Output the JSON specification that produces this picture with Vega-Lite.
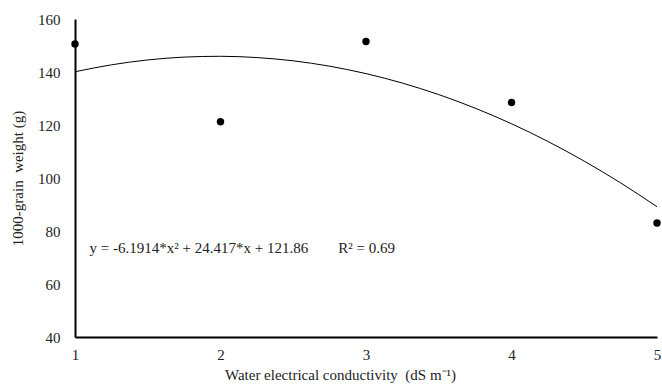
{
  "$schema": "https://vega.github.io/schema/vega-lite/v6.json",
  "width": 582,
  "height": 318,
  "autosize": "none",
  "padding": {"left": 75, "top": 19, "right": 5, "bottom": 53},
  "background": "white",
  "config": {"view": {"stroke": null}, "font": "Liberation Serif"},
  "datasets": {
    "points": [
      {"ec": 1, "weight": 150.6},
      {"ec": 2, "weight": 121.2},
      {"ec": 3, "weight": 151.5},
      {"ec": 4, "weight": 128.5},
      {"ec": 5, "weight": 83.0}
    ],
    "curve": [
      {"ec": 1, "weight": 140.09},
      {"ec": 1.25, "weight": 142.71},
      {"ec": 1.5, "weight": 144.55},
      {"ec": 1.75, "weight": 145.63},
      {"ec": 2, "weight": 145.93},
      {"ec": 2.25, "weight": 145.45},
      {"ec": 2.5, "weight": 144.21},
      {"ec": 2.75, "weight": 142.19},
      {"ec": 3, "weight": 139.39},
      {"ec": 3.25, "weight": 135.82},
      {"ec": 3.5, "weight": 131.47},
      {"ec": 3.75, "weight": 126.36},
      {"ec": 4, "weight": 120.47},
      {"ec": 4.25, "weight": 113.8},
      {"ec": 4.5, "weight": 106.36},
      {"ec": 4.75, "weight": 98.15},
      {"ec": 5, "weight": 89.16}
    ],
    "label": [
      {"ec": 1.1, "weight": 73.6, "text": "y = -6.1914*x² + 24.417*x + 121.86\u00a0\u00a0\u00a0\u00a0\u00a0\u00a0\u00a0\u00a0R² = 0.69"}
    ]
  },
  "layer": [
    {
      "data": {"name": "curve"},
      "mark": {"type": "line", "color": "#000000", "strokeWidth": 1, "interpolate": "monotone"},
      "encoding": {
        "x": {
          "field": "ec", "type": "quantitative",
          "scale": {"domain": [1, 5], "nice": false, "zero": false},
          "axis": {
            "title": "Water electrical conductivity\u00a0\u00a0(dS m⁻¹)",
            "values": [1, 2, 3, 4, 5], "format": "d", "grid": false, "ticks": false,
            "domainColor": "#000000", "domainWidth": 2,
            "labelFont": "Liberation Serif", "labelFontSize": 15, "labelColor": "#222222",
            "labelPadding": 10, "labelFlush": false,
            "titleFont": "Liberation Serif", "titleFontSize": 15, "titleFontWeight": "normal", "titleColor": "#222222",
            "titleX": 265, "titleAnchor": null, "titleAlign": "center", "titleBaseline": "alphabetic", "titleY": 42
          }
        },
        "y": {
          "field": "weight", "type": "quantitative",
          "scale": {"domain": [40, 160], "nice": false, "zero": false},
          "axis": {
            "title": "1000-grain\u00a0\u00a0weight (g)",
            "values": [40, 60, 80, 100, 120, 140, 160], "grid": false, "ticks": false,
            "domainColor": "#000000", "domainWidth": 2,
            "labelFont": "Liberation Serif", "labelFontSize": 15, "labelColor": "#222222",
            "labelPadding": 15,
            "titleFont": "Liberation Serif", "titleFontSize": 15, "titleFontWeight": "normal", "titleColor": "#222222",
            "titlePadding": 12
          }
        }
      }
    },
    {
      "data": {"name": "points"},
      "mark": {"type": "point", "filled": true, "shape": "circle", "size": 55, "color": "#000000", "opacity": 1},
      "encoding": {
        "x": {"field": "ec", "type": "quantitative"},
        "y": {"field": "weight", "type": "quantitative"}
      }
    },
    {
      "data": {"name": "label"},
      "mark": {"type": "text", "align": "left", "baseline": "middle", "font": "Liberation Serif", "fontSize": 15, "color": "#222222"},
      "encoding": {
        "x": {"field": "ec", "type": "quantitative"},
        "y": {"field": "weight", "type": "quantitative"},
        "text": {"field": "text"}
      }
    }
  ]
}
